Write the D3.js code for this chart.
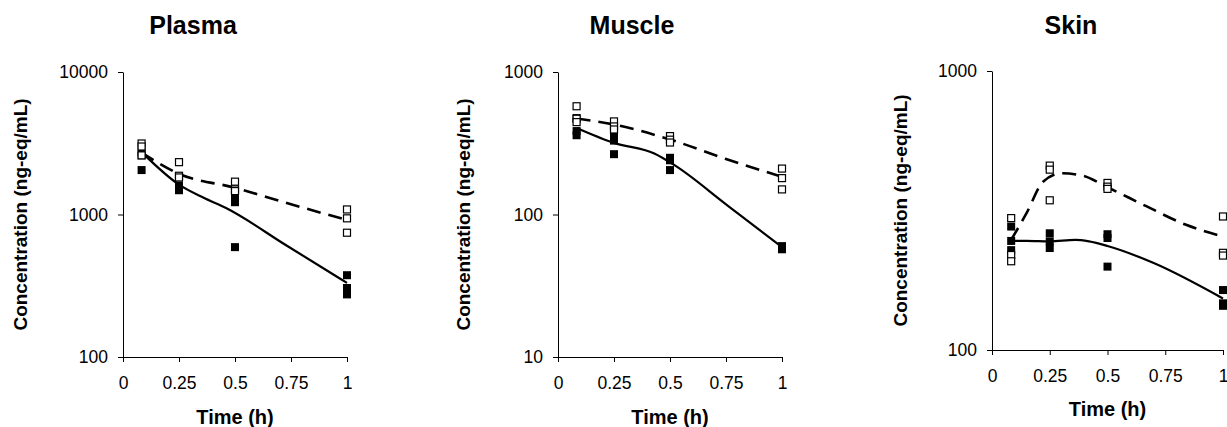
<!DOCTYPE html>
<html lang="en">
<head>
<meta charset="utf-8">
<title>Concentration vs time</title>
<script src="https://d3js.org/d3.v7.min.js"></script>
<style>
  body { margin: 0; background: #fff; }
  svg { font-family: "Liberation Sans", Arial, sans-serif; }
  .tick text { font-size: 17.5px; fill: #000; }
  .axis path, .axis line { stroke: #000; stroke-width: 1; }
  .title { font-size: 25px; font-weight: bold; }
  .label-axis { font-size: 19px; font-weight: bold; }
  .label-x { font-size: 20px; }
</style>
</head>
<body>
<div id="chart"></div>
<script>
// sampling times (h)
var times = [0.083, 0.25, 0.5, 1];
var xTicks = [0, 0.25, 0.5, 0.75, 1];

// observed values, 3 animals per time point (open / filled squares)
var plasmaOpen   = [[3150, 3000, 2600], [2330, 1870, 1820], [1700, 1500, 1460], [1085, 940, 745]];
var plasmaFilled = [[2750, 2600, 2050], [1600, 1520, 1480], [1320, 1220, 590], [375, 305, 275]];
var muscleOpen   = [[575, 470, 445], [450, 415, 395], [355, 335, 320], [210, 180, 150]];
var muscleFilled = [[475, 385, 360], [350, 330, 265], [250, 240, 205], [60, 58, 57]];
var skinOpen     = [[297, 219, 208], [458, 443, 344], [397, 385, 378], [301, 223, 218]];
var skinFilled   = [[277, 246, 228], [262, 245, 232], [260, 252, 199], [164, 147, 144]];

// model curves [time, value]
var plasmaSolid  = [[0.083, 2740], [0.25, 1620], [0.36, 1310], [0.46, 1110], [0.73, 606], [1, 331]];
var plasmaDashed = [[0.083, 2720], [0.25, 1930], [0.5, 1540], [0.75, 1180], [1, 915]];
var muscleSolid  = [[0.083, 405], [0.25, 318], [0.43, 268], [0.52, 222], [0.75, 118], [1, 59]];
var muscleDashed = [[0.083, 472], [0.25, 428], [0.5, 336], [0.75, 245], [1, 184]];
var skinSolid    = [[0.083, 246], [0.15, 246], [0.25, 245], [0.36, 248], [0.42, 245], [0.5, 236], [0.7, 205], [1, 153]];
var skinDashed   = [[0.083, 248], [0.15, 310], [0.22, 400], [0.3, 430], [0.39, 422], [0.5, 383], [0.67, 327], [0.84, 281], [1, 255]];

var panels = [
  {title: "Plasma", yDomain: [100, 10000], yTicks: [100, 1000, 10000],
   open: plasmaOpen, filled: plasmaFilled, solid: plasmaSolid, dashed: plasmaDashed,
   left: 123, right: 347, top: 72, bottom: 357, titleX: 193, yLabelX: 27, xLabelY: 424},
  {title: "Muscle", yDomain: [10, 1000], yTicks: [10, 100, 1000],
   open: muscleOpen, filled: muscleFilled, solid: muscleSolid, dashed: muscleDashed,
   left: 558, right: 782, top: 72, bottom: 357, titleX: 632, yLabelX: 470, xLabelY: 424},
  {title: "Skin", yDomain: [100, 1000], yTicks: [100, 1000],
   open: skinOpen, filled: skinFilled, solid: skinSolid, dashed: skinDashed,
   left: 992, right: 1223, top: 71, bottom: 350, titleX: 1071, yLabelX: 907, xLabelY: 416}
];

var W = 1227, H = 427, sq = 8;

var svg = d3.select("#chart").append("svg")
  .attr("width", W)
  .attr("height", H);

// flatten a [time][animal] array into points
function toPoints(arr) {
  var pts = [];
  arr.forEach(function(vals, i) {
    vals.forEach(function(v) { pts.push({t: times[i], v: v}); });
  });
  return pts;
}

panels.forEach(function(p) {
  var g = svg.append("g");

  var x = d3.scaleLinear().domain([0, 1]).range([p.left, p.right]);
  var y = d3.scaleLog().domain(p.yDomain).range([p.bottom, p.top]);

  // title
  g.append("text")
    .attr("class", "title")
    .attr("x", p.titleX)
    .attr("y", 34)
    .attr("text-anchor", "middle")
    .text(p.title);

  // axes
  g.append("g")
    .attr("class", "axis")
    .attr("transform", "translate(0," + p.bottom + ")")
    .call(d3.axisBottom(x).tickValues(xTicks).tickSize(5).tickPadding(15).tickSizeOuter(0)
      .tickFormat(function(d) { return d3.format("")(d); }));

  g.append("g")
    .attr("class", "axis")
    .attr("transform", "translate(" + p.left + ",0)")
    .call(d3.axisLeft(y).tickValues(p.yTicks).tickSize(5).tickPadding(10).tickSizeOuter(0)
      .tickFormat(d3.format("d")));

  g.selectAll(".axis .domain").attr("stroke", "#000");

  // axis labels
  g.append("text")
    .attr("class", "label-axis")
    .attr("transform", "translate(" + p.yLabelX + "," + ((p.top + p.bottom) / 2) + ") rotate(-90)")
    .attr("text-anchor", "middle")
    .text("Concentration (ng-eq/mL)");

  g.append("text")
    .attr("class", "label-axis label-x")
    .attr("x", (p.left + p.right) / 2)
    .attr("y", p.xLabelY)
    .attr("text-anchor", "middle")
    .text("Time (h)");

  // model lines
  var line = d3.line()
    .x(function(d) { return x(d[0]); })
    .y(function(d) { return y(d[1]); })
    .curve(d3.curveMonotoneX);

  g.append("path")
    .attr("d", line(p.dashed))
    .attr("fill", "none")
    .attr("stroke", "#000")
    .attr("stroke-width", 2.6)
    .attr("stroke-dasharray", "14,8");

  g.append("path")
    .attr("d", line(p.solid))
    .attr("fill", "none")
    .attr("stroke", "#000")
    .attr("stroke-width", 2.2);

  // observed points
  g.append("g").selectAll("rect")
    .data(toPoints(p.filled))
    .join("rect")
    .attr("x", function(d) { return x(d.t) - sq / 2; })
    .attr("y", function(d) { return y(d.v) - sq / 2; })
    .attr("width", sq)
    .attr("height", sq)
    .attr("fill", "#000");

  g.append("g").selectAll("rect")
    .data(toPoints(p.open))
    .join("rect")
    .attr("x", function(d) { return x(d.t) - (sq - 1) / 2; })
    .attr("y", function(d) { return y(d.v) - (sq - 1) / 2; })
    .attr("width", sq - 1)
    .attr("height", sq - 1)
    .attr("fill", "#fff")
    .attr("stroke", "#000")
    .attr("stroke-width", 1.2);
});
</script>
</body>
</html>
